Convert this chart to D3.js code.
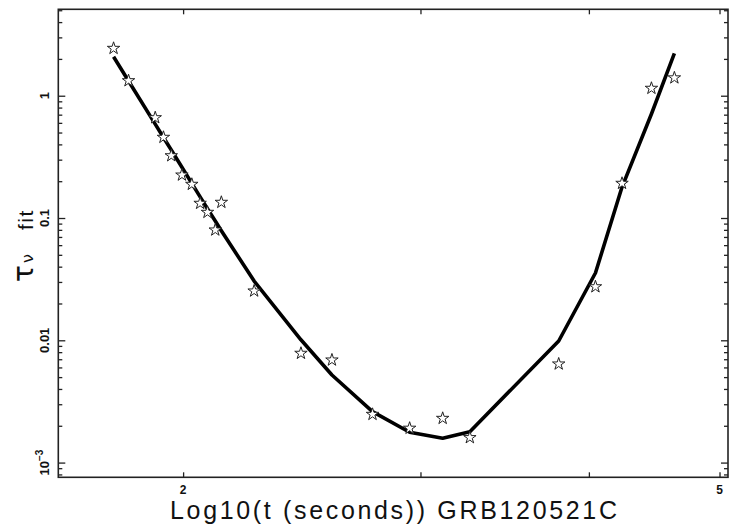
<!DOCTYPE html>
<html><head><meta charset="utf-8">
<script src="https://cdn.jsdelivr.net/npm/d3@7"></script>
<style>body{margin:0;background:#fff}svg{display:block}</style>
</head><body><svg id="c" width="729" height="529"></svg>
<script>
// Observed points (t in seconds, tau_nu)
const obsTime = [1.776,1.822,1.907,1.934,1.960,1.996,2.030,2.059,2.085,2.113,2.135,2.258,2.446,2.579,2.764,2.945,3.116,3.264,3.799,4.045,4.233,4.451,4.629];
const obsTau  = [2.44,1.327,0.661,0.457,0.323,0.2246,0.1886,0.1319,0.1113,0.0798,0.1344,0.0253,0.00783,0.0069,0.00248,0.00191,0.0023,0.0016,0.0064,0.0274,0.1922,1.15,1.40];
// Fit model evaluated at the observed times
const fitTime = [1.776,1.822,1.907,1.934,1.960,1.996,2.030,2.059,2.085,2.113,2.135,2.258,2.446,2.579,2.764,2.945,3.116,3.264,3.799,4.045,4.233,4.451,4.629];
const fitTau  = [2.084,1.321,0.586,0.455,0.360,0.260,0.192,0.149,0.119,0.0945,0.0787,0.0305,0.0101,0.0052,0.00261,0.00177,0.00158,0.00179,0.00987,0.0355,0.179,0.709,2.22];
// Axis ticks
const xTickValues = [2,3,4,5];
const xTickLabels = ["2","","","5"];
const yMajorValues = [0.001,0.01,0.1,1];
const yMajorLabels = ["10|−3","0.01","0.1","1"];
const xDomain = [1.616,5.073];
const yDomain = [7.58e-4,5.09];

const svg = d3.select("#c");
const L = 58.3, R = 728, T = 9.3, B = 477.3;
const x = d3.scaleLog().domain(xDomain).range([L,R]);
const y = d3.scaleLog().domain(yDomain).range([B,T]);

const yMinor = [];
[1e-4,1e-3,1e-2,1e-1,1].forEach(d=>{for(let k=2;k<=9;k++){const v=k*d; if(v>yDomain[0]&&v<yDomain[1]) yMinor.push(v);}});

const tickColor="#222";
function styleAxis(g){ g.select(".domain").remove(); g.selectAll("line").attr("stroke",tickColor).attr("stroke-width",1.3); g.selectAll("text").remove(); }

// Left axis ticks
svg.append("g").attr("transform",`translate(${L},0)`).call(d3.axisLeft(y).tickValues(yMinor).tickSize(-4)).call(styleAxis);
svg.append("g").attr("transform",`translate(${L},0)`).call(d3.axisLeft(y).tickValues(yMajorValues).tickSize(-7)).call(styleAxis);
// Right axis ticks
svg.append("g").attr("transform",`translate(${R},0)`).call(d3.axisRight(y).tickValues(yMinor).tickSize(-4)).call(styleAxis);
svg.append("g").attr("transform",`translate(${R},0)`).call(d3.axisRight(y).tickValues(yMajorValues).tickSize(-7)).call(styleAxis);
// Bottom / top ticks
svg.append("g").attr("transform",`translate(0,${B})`).call(d3.axisBottom(x).tickValues(xTickValues).tickSize(-5)).call(styleAxis);
svg.append("g").attr("transform",`translate(0,${T})`).call(d3.axisTop(x).tickValues(xTickValues).tickSize(-5)).call(styleAxis);

// Frame
svg.append("rect").attr("x",L).attr("y",T).attr("width",R-L).attr("height",B-T)
  .attr("fill","none").attr("stroke","#222").attr("stroke-width",1.6);

const font = "'Liberation Sans', Arial, Helvetica, sans-serif";

// Y tick labels (rotated)
yMajorValues.forEach((v,i)=>{
  const t = svg.append("text").attr("transform",`translate(49,${y(v)}) rotate(-90)`)
    .attr("text-anchor","middle").attr("font-family",font).attr("font-weight","bold")
    .attr("font-size",13).attr("fill","#111");
  const lab = yMajorLabels[i];
  if(lab.includes("|")){
    const [base,exp] = lab.split("|");
    t.append("tspan").text(base);
    t.append("tspan").attr("font-size",10).attr("dy",-6).text(exp);
  } else t.text(lab);
});

// X tick labels
xTickValues.forEach((v,i)=>{
  if(!xTickLabels[i]) return;
  svg.append("text").attr("x",x(v)).attr("y",494).attr("text-anchor","middle")
    .attr("font-family",font).attr("font-weight","bold").attr("font-size",12).attr("fill","#111")
    .text(xTickLabels[i]);
});

// X title
svg.append("text").attr("x",170).attr("y",519).attr("font-family",font).attr("font-size",25)
  .attr("fill","#111").attr("textLength",447).attr("lengthAdjust","spacing")
  .text("Log10(t (seconds)) GRB120521C");

// Y title
const gfont = "'DejaVu Sans', sans-serif";
svg.append("text").attr("transform","translate(33,282) rotate(-90)").attr("font-family",gfont)
  .attr("font-size",28).attr("fill","#111").text("τ");
svg.append("text").attr("transform","translate(33,263) rotate(-90)").attr("font-family",gfont)
  .attr("font-size",16).attr("fill","#111").text("ν");
svg.append("text").attr("transform","translate(33,230) rotate(-90)").attr("font-family",font)
  .attr("font-size",21).attr("fill","#111").attr("letter-spacing",1.5).text("fit");

// Fit line
const fitData = fitTime.map((t,i)=>({t,v:fitTau[i]}));
svg.append("path").datum(fitData)
  .attr("d",d3.line().x(d=>x(d.t)).y(d=>y(d.v)))
  .attr("fill","none").attr("stroke","#000").attr("stroke-width",3.6).attr("stroke-linejoin","round");

// Star markers
const obsData = obsTime.map((t,i)=>({t,v:obsTau[i]}));
const star = d3.symbol().type(d3.symbolStar).size(48);
svg.append("g").selectAll("path").data(obsData).join("path")
  .attr("transform",d=>`translate(${x(d.t)},${y(d.v)})`)
  .attr("d",star).attr("fill","#fff").attr("stroke","#222").attr("stroke-width",1);
</script></body></html>
